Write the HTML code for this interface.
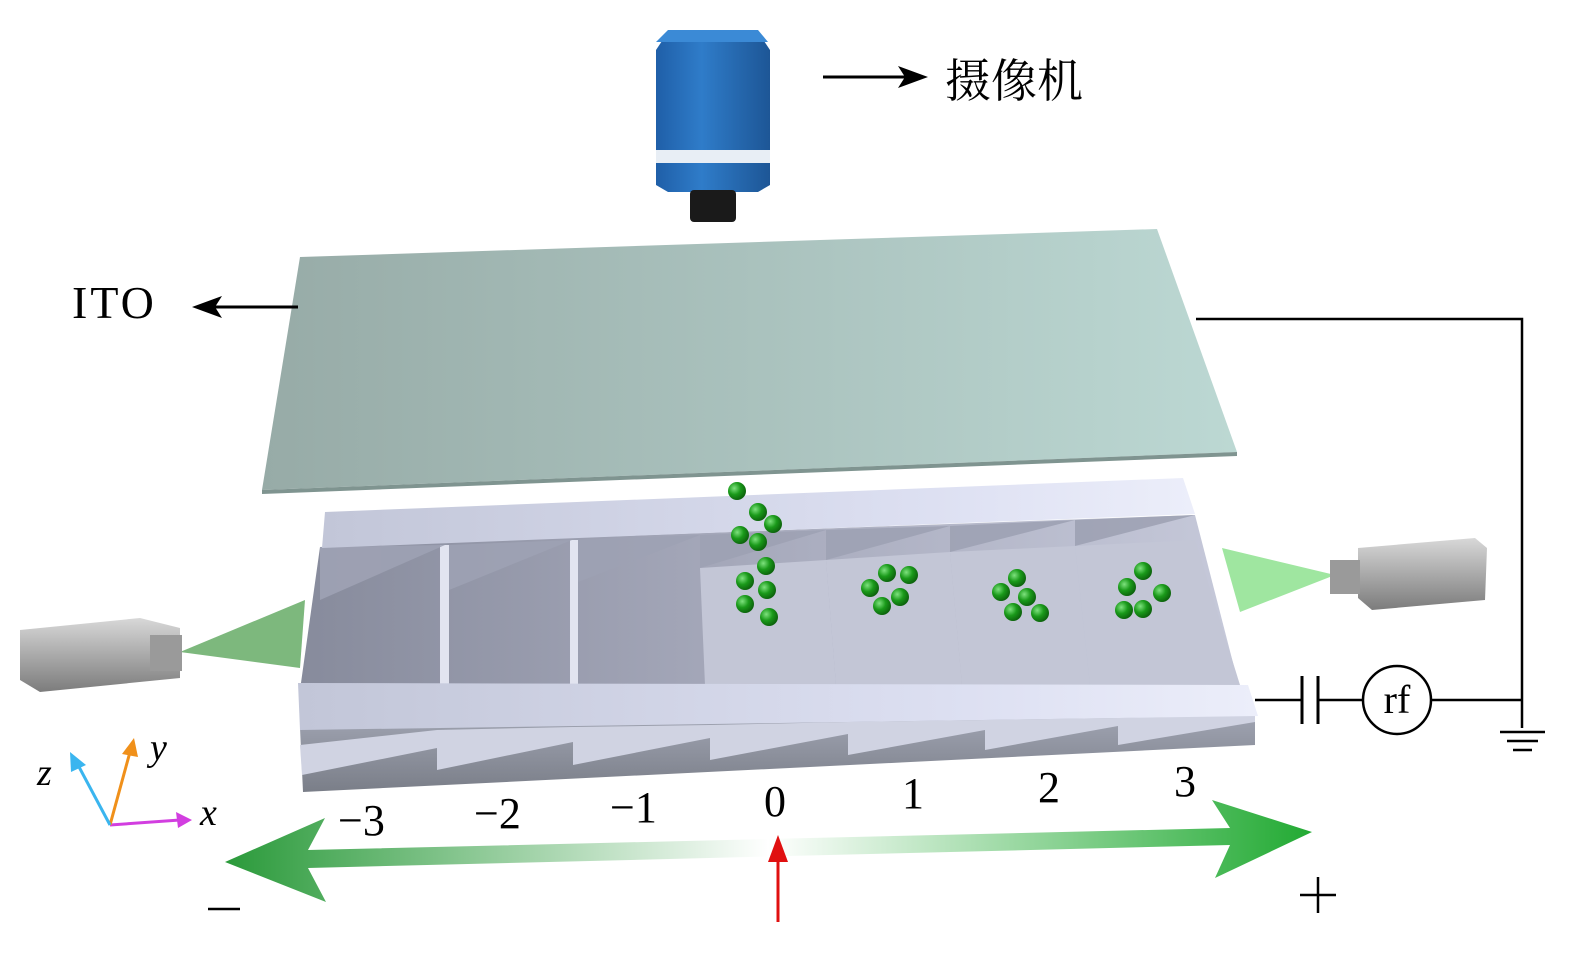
<!DOCTYPE html>
<html><head><meta charset="utf-8"><style>
html,body{margin:0;padding:0;background:#fff;}
svg{display:block}
</style></head><body>
<svg width="1575" height="965" viewBox="0 0 1575 965" xmlns="http://www.w3.org/2000/svg">
<defs>
<linearGradient id="ito" x1="0" x2="1"><stop offset="0" stop-color="#97aba7"/><stop offset="1" stop-color="#bcd8d3"/></linearGradient>
<linearGradient id="cam" x1="0" x2="1"><stop offset="0" stop-color="#1f5fa8"/><stop offset="0.4" stop-color="#2f7cc9"/><stop offset="1" stop-color="#1d5696"/></linearGradient>
<linearGradient id="rail" x1="0" x2="1"><stop offset="0" stop-color="#c2c6d8"/><stop offset="0.7" stop-color="#dde0f2"/><stop offset="1" stop-color="#eceefa"/></linearGradient>
<linearGradient id="floor" x1="0" x2="1"><stop offset="0" stop-color="#878b9c"/><stop offset="0.5" stop-color="#a8abbd"/><stop offset="1" stop-color="#c6c9da"/></linearGradient>
<linearGradient id="face" x1="0" x2="0" y1="0" y2="1"><stop offset="0" stop-color="#a0a4b2"/><stop offset="1" stop-color="#7a7e88"/></linearGradient>
<linearGradient id="big" x1="0" x2="1"><stop offset="0" stop-color="#2a9a3a"/><stop offset="0.5" stop-color="#ffffff"/><stop offset="1" stop-color="#22aa33"/></linearGradient>
<linearGradient id="box" x1="0" x2="0" y1="0" y2="1"><stop offset="0" stop-color="#d8d8d8"/><stop offset="1" stop-color="#7c7c7c"/></linearGradient>
<radialGradient id="ball" cx="0.35" cy="0.35" r="0.7"><stop offset="0" stop-color="#7ee27e"/><stop offset="0.5" stop-color="#1a9a1a"/><stop offset="1" stop-color="#0b5f0b"/></radialGradient>
</defs>

<!-- camera -->
<polygon points="668,32 758,32 770,50 770,185 758,192 668,192 656,185 656,50" fill="url(#cam)"/>
<polygon points="668,30 758,30 768,42 656,42" fill="#3b8ad6"/>
<rect x="656" y="150" width="114" height="13" fill="#e8eef5"/>
<rect x="690" y="190" width="46" height="32" rx="4" fill="#1a1a1a"/>
<line x1="823" y1="77" x2="905" y2="77" stroke="#000" stroke-width="3"/>
<polygon points="928,77 898,66 905,77 898,88" fill="#000"/>
<text x="945" y="97" font-family="'Noto Serif CJK SC','Noto Sans CJK SC',serif" font-size="46">摄像机</text>

<!-- ITO -->
<polygon points="300,257 1157,229 1237,452 262,490" fill="url(#ito)"/>
<polygon points="262,490 1237,452 1237,456 262,494" fill="#7f9490"/>
<text x="72" y="318" font-family="'Liberation Serif',serif" font-size="46" letter-spacing="3">ITO</text>
<line x1="298" y1="307" x2="215" y2="307" stroke="#000" stroke-width="3"/>
<polygon points="192,307 222,296 215,307 222,318" fill="#000"/>

<!-- circuit -->
<polyline points="1196,319 1522,319 1522,728" fill="none" stroke="#000" stroke-width="2.5"/>
<line x1="1255" y1="700" x2="1302" y2="700" stroke="#000" stroke-width="2.5"/>
<line x1="1302" y1="676" x2="1302" y2="724" stroke="#000" stroke-width="3"/>
<line x1="1318" y1="676" x2="1318" y2="724" stroke="#000" stroke-width="3"/>
<line x1="1318" y1="700" x2="1363" y2="700" stroke="#000" stroke-width="2.5"/>
<circle cx="1397" cy="700" r="34" fill="#fff" stroke="#000" stroke-width="2.5"/>
<text x="1397" y="713" text-anchor="middle" font-family="'Liberation Serif',serif" font-size="40">rf</text>
<line x1="1431" y1="700" x2="1522" y2="700" stroke="#000" stroke-width="2.5"/>
<line x1="1500" y1="732" x2="1545" y2="732" stroke="#000" stroke-width="2.5"/>
<line x1="1507" y1="741" x2="1538" y2="741" stroke="#000" stroke-width="2.5"/>
<line x1="1513" y1="750" x2="1532" y2="750" stroke="#000" stroke-width="2.5"/>

<!-- side cameras -->
<polygon points="180,652 305,600 300,668" fill="#6fb06f" opacity="0.9"/>
<polygon points="20,630 140,618 180,628 180,678 40,692 20,680" fill="url(#box)"/>
<rect x="150" y="635" width="32" height="36" fill="#9a9a9a"/>
<polygon points="1335,575 1222,548 1240,612" fill="#9fe6a0"/>
<polygon points="1358,548 1475,538 1487,548 1485,600 1372,610 1358,598" fill="url(#box)"/>
<rect x="1330" y="560" width="30" height="34" fill="#9a9a9a"/>

<!-- trough floor area -->
<polygon points="320,547 1195,515 1240,690 300,690" fill="url(#floor)"/>
<!-- compartment walls -->
<g fill="#e2e4f0">
<polygon points="440,545 449,545 449,685 440,685"/>
<polygon points="570,540 578,540 578,685 570,685"/>
</g>
<g fill="#9ea2b4" opacity="0.9">
<polygon points="320,547 445,545 320,600"/>
<polygon points="449,545 572,540 449,590"/>
<polygon points="578,540 700,535 578,582"/>
<polygon points="700,535 826,530 700,568"/>
<polygon points="826,530 950,526 826,560"/>
<polygon points="950,526 1075,520 950,552"/>
<polygon points="1075,520 1195,515 1075,546"/>
</g>
<g fill="#c3c6d6">
<polygon points="700,568 826,560 836,685 705,685"/>
<polygon points="826,560 950,552 962,685 836,685"/>
<polygon points="950,552 1075,546 1090,685 962,685"/>
<polygon points="1075,546 1195,540 1240,685 1090,685"/>
</g>
<!-- back rail -->
<polygon points="325,512 1183,478 1195,514 322,548" fill="url(#rail)"/>
<!-- front face -->
<polygon points="300,728 1255,715 1255,745 303,792" fill="url(#face)"/>
<g fill="#d0d3e2">
<polygon points="300,745 437,730 437,748 302,775"/>
<polygon points="437,730 573,727 573,742 437,770"/>
<polygon points="573,727 710,725 710,738 573,765"/>
<polygon points="710,725 848,722 848,734 710,760"/>
<polygon points="848,722 985,720 985,730 848,755"/>
<polygon points="985,720 1118,718 1118,726 985,750"/>
<polygon points="1118,718 1255,715 1255,722 1118,745"/>
</g>
<!-- front rail top -->
<polygon points="298,683 1248,685 1258,716 300,730" fill="url(#rail)"/>

<!-- balls -->
<g fill="url(#ball)">
<circle cx="737" cy="491" r="9"/><circle cx="758" cy="512" r="9"/><circle cx="773" cy="524" r="9"/>
<circle cx="740" cy="535" r="9"/><circle cx="758" cy="542" r="9"/><circle cx="766" cy="566" r="9"/>
<circle cx="745" cy="581" r="9"/><circle cx="767" cy="590" r="9"/><circle cx="745" cy="604" r="9"/><circle cx="769" cy="617" r="9"/>
<circle cx="887" cy="573" r="9"/><circle cx="909" cy="575" r="9"/><circle cx="870" cy="588" r="9"/><circle cx="900" cy="597" r="9"/><circle cx="882" cy="606" r="9"/>
<circle cx="1017" cy="578" r="9"/><circle cx="1001" cy="592" r="9"/><circle cx="1027" cy="597" r="9"/><circle cx="1013" cy="612" r="9"/><circle cx="1040" cy="613" r="9"/>
<circle cx="1143" cy="571" r="9"/><circle cx="1127" cy="587" r="9"/><circle cx="1162" cy="593" r="9"/><circle cx="1124" cy="610" r="9"/><circle cx="1143" cy="609" r="9"/>
</g>

<!-- labels -->
<g font-family="'Liberation Serif',serif" font-size="44">
<text x="338" y="835">−3</text><text x="474" y="828">−2</text><text x="610" y="822">−1</text>
<text x="764" y="816">0</text><text x="902" y="808">1</text><text x="1038" y="802">2</text><text x="1174" y="796">3</text>
</g>
<line x1="208" y1="909" x2="240" y2="909" stroke="#000" stroke-width="2.5"/>
<line x1="1300" y1="895" x2="1336" y2="895" stroke="#000" stroke-width="2.5"/>
<line x1="1318" y1="877" x2="1318" y2="913" stroke="#000" stroke-width="2.5"/>

<!-- big arrow -->
<polygon points="225,862 325,818 308,850 1230,828 1212,800 1312,832 1215,878 1230,845 308,868 326,902" fill="url(#big)"/>
<line x1="778" y1="922" x2="778" y2="855" stroke="#e01010" stroke-width="3"/>
<polygon points="778,835 768,862 788,862" fill="#e01010"/>

<!-- axes -->
<line x1="110" y1="825" x2="180" y2="820" stroke="#d23ee0" stroke-width="3"/>
<polygon points="192,820 176,812 178,828" fill="#d23ee0"/>
<line x1="110" y1="825" x2="130" y2="752" stroke="#f0901a" stroke-width="3"/>
<polygon points="134,738 122,754 138,757" fill="#f0901a"/>
<line x1="110" y1="825" x2="78" y2="765" stroke="#3ab5ef" stroke-width="3"/>
<polygon points="70,752 71,772 86,765" fill="#3ab5ef"/>
<g font-family="'Liberation Serif',serif" font-style="italic" font-size="38">
<text x="200" y="825">x</text><text x="150" y="760">y</text><text x="37" y="785">z</text>
</g>
</svg>
</body></html>
